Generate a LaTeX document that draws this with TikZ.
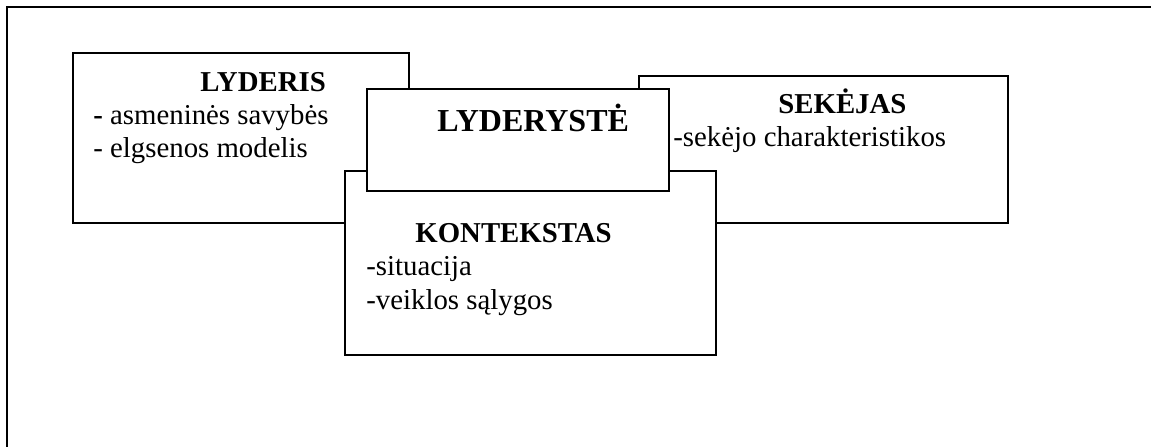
\documentclass[tikz,border=0pt]{standalone}
\usepackage{fontspec}
\setmainfont{Liberation Serif}
\tikzstyle{frame} = [draw, line width=1.2pt]
\tikzstyle{box} = [draw, fill=white, line width=0.6pt]
\tikzstyle{title} = [anchor=base west, inner sep=0pt,
                  font=\fontsize{14.4}{16.5}\selectfont\bfseries]
\tikzstyle{bigtitle} = [anchor=base west, inner sep=0pt,
                  font=\fontsize{16}{18}\selectfont\bfseries]
\tikzstyle{item} = [anchor=base west, inner sep=0pt,
                  font=\fontsize{14.4}{16.5}\selectfont]

\begin{document}
\begin{tikzpicture}
        [x=0.5pt, y=-0.5pt]
        \useasboundingbox (0,0) rectangle (1151,447);
        % outer frame (cut on the right and bottom)
        \draw [frame] (1151,7) -| (7,447);

        % leader
        \draw [box] (73,53) rectangle (409,223);
        \node [title] (lyderis) at (200,91) {LYDERIS};
        \node [item] (savybes) at (93,124) {\textbf{-} asmeninės savybės};
        \node [item] (modelis) at (93,157) {- elgsenos modelis};

        % follower
        \draw [box] (639,76) rectangle (1008,223);
        \node [title] (sekejas) at (778,113) {SEKĖJAS};
        \node [item] (charakt) at (673,146) {-sekėjo charakteristikos};

        % context
        \draw [box] (345,171) rectangle (716,355);
        \node [title] (kontekstas) at (415,242) {KONTEKSTAS};
        \node [item] (situacija) at (366,275) {-situacija};
        \node [item] (salygos) at (366,309) {-veiklos sąlygos};

        % leadership on top
        \draw [box] (367,89) rectangle (669,191);
        \node [bigtitle] (lyderyste) at (437,131) {LYDERYSTĖ};
    \end{tikzpicture}
\end{document}
